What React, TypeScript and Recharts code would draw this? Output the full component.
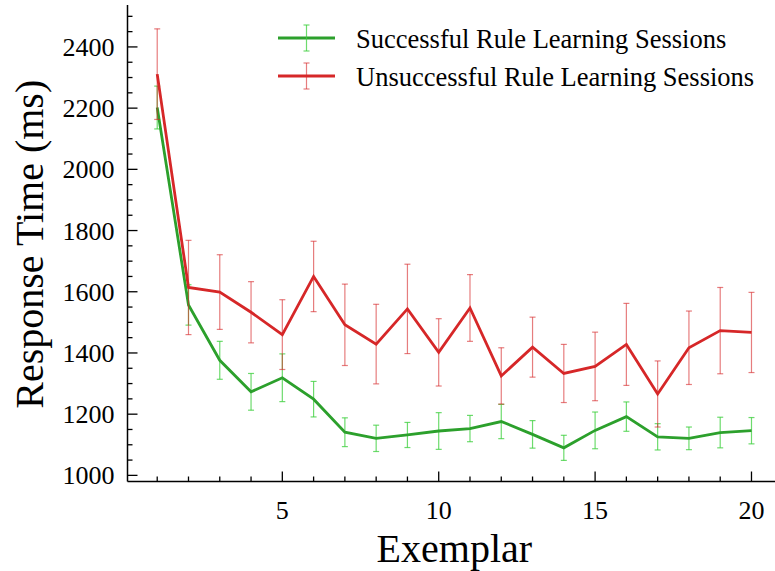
import React from "react";
import { LineChart, Line, XAxis, YAxis, ErrorBar, Legend } from "recharts";

const exemplars = [1, 2, 3, 4, 5, 6, 7, 8, 9, 10, 11, 12, 13, 14, 15, 16, 17, 18, 19, 20];
const successMean = [2202, 1557, 1376, 1273, 1319, 1249, 1141, 1121, 1132, 1145, 1153, 1176, 1134, 1090, 1147, 1192, 1126, 1121, 1140, 1146];
const successErr = [70, 66, 62, 60, 78, 58, 47, 43, 41, 60, 43, 56, 45, 41, 60, 48, 43, 37, 50, 43];
const failMean = [2311, 1614, 1599, 1533, 1460, 1650, 1492, 1429, 1544, 1402, 1547, 1325, 1419, 1333, 1356, 1428, 1266, 1417, 1473, 1467];
const failErr = [148, 154, 122, 100, 114, 115, 133, 130, 146, 110, 109, 92, 98, 95, 112, 134, 108, 120, 141, 131];

const xTicks = exemplars;
const yTicks = [
  1000, 1050, 1100, 1150, 1200, 1250, 1300, 1350, 1400, 1450, 1500, 1550, 1600, 1650, 1700, 1750,
  1800, 1850, 1900, 1950, 2000, 2050, 2100, 2150, 2200, 2250, 2300, 2350, 2400, 2450, 2500,
];

const series = [
  { key: "success", err: "successErr", name: "Successful Rule Learning Sessions", color: "#2ca02c", errColor: "#3ccf3c", errOpacity: 0.75 },
  { key: "fail", err: "failErr", name: "Unsuccessful Rule Learning Sessions", color: "#d62728", errColor: "#d62728", errOpacity: 0.6 },
];

const data = exemplars.map((x, i) => ({
  x,
  success: successMean[i],
  successErr: successErr[i],
  fail: failMean[i],
  failErr: failErr[i],
}));

const FONT = '"Liberation Serif", "Times New Roman", serif';
const TICK = { stroke: "#000", strokeWidth: 1.3 };
const X_DOMAIN = [0.05, 20.95];
const Y_DOMAIN = [980, 2537];

const BottomTick = ({ x, y, payload }: any) => {
  const major = payload.value % 5 === 0;
  return (
    <g>
      <line x1={x} y1={y} x2={x} y2={y - (major ? 10 : 5)} {...TICK} />
      {major && (
        <text x={x} y={y + 37} textAnchor="middle" fontSize={26} fontFamily={FONT} fill="#000">
          {payload.value}
        </text>
      )}
    </g>
  );
};

const TopTick = ({ x, y, payload }: any) => {
  const major = payload.value % 5 === 0;
  return <line x1={x} y1={y} x2={x} y2={y + (major ? 10 : 5)} {...TICK} />;
};

const LeftTick = ({ x, y, payload }: any) => {
  const major = payload.value % 200 === 0;
  return (
    <g>
      <line x1={x} y1={y} x2={x + (major ? 10 : 5)} y2={y} {...TICK} />
      {major && (
        <text x={x - 13} y={y + 9} textAnchor="end" fontSize={26} fontFamily={FONT} fill="#000">
          {payload.value}
        </text>
      )}
    </g>
  );
};

const RightTick = ({ x, y, payload }: any) => {
  const major = payload.value % 200 === 0;
  return <line x1={x} y1={y} x2={x - (major ? 10 : 5)} y2={y} {...TICK} />;
};

const LegendBox = () => (
  <svg width={520} height={100} style={{ position: "absolute", left: 260, top: 0 }}>
    {series.map((s, i) => {
      const cy = 38 + i * 38;
      return (
        <g key={s.key}>
          <line x1={18} x2={75} y1={cy} y2={cy} stroke={s.color} strokeWidth={2.8} />
          <g stroke={s.errColor} strokeOpacity={s.errOpacity} strokeWidth={1.2}>
            <line x1={46.5} x2={46.5} y1={cy - 13} y2={cy + 13} />
            <line x1={43.5} x2={49.5} y1={cy - 13} y2={cy - 13} />
            <line x1={43.5} x2={49.5} y1={cy + 13} y2={cy + 13} />
          </g>
          <text x={96} y={cy + 10} fontSize={26.5} fontFamily={FONT} fill="#000">
            {s.name}
          </text>
        </g>
      );
    })}
  </svg>
);

export default function App() {
  return (
    <div style={{ position: "absolute", left: 0, top: 0, width: 775, height: 571, overflow: "hidden", background: "#fff" }}>
      <LineChart
        width={790}
        height={571}
        data={data}
        margin={{ top: 5, right: 8.8, left: 67.5, bottom: 39.5 }}
      >
        <XAxis
          dataKey="x"
          type="number"
          domain={X_DOMAIN}
          allowDataOverflow
          ticks={xTicks}
          interval={0}
          height={50}
          tickSize={0}
          tickMargin={0}
          tick={<BottomTick />}
          axisLine={{ stroke: "#000", strokeWidth: 1.5 }}
          label={{
            content: ({ viewBox }: any) => (
              <text
                x={viewBox.x + viewBox.width / 2}
                y={viewBox.y + 80.5}
                textAnchor="middle"
                fontSize={40}
                fontFamily={FONT}
                fill="#000"
              >
                Exemplar
              </text>
            ),
          }}
        />
        <XAxis
          xAxisId="top"
          orientation="top"
          dataKey="x"
          type="number"
          domain={X_DOMAIN}
          allowDataOverflow
          ticks={xTicks}
          interval={0}
          height={0}
          tickSize={0}
          tickMargin={0}
          tick={<TopTick />}
          axisLine={{ stroke: "#000", strokeWidth: 1.5 }}
        />
        <YAxis
          type="number"
          domain={Y_DOMAIN}
          allowDataOverflow
          ticks={yTicks}
          interval={0}
          width={60}
          tickSize={0}
          tickMargin={0}
          tick={<LeftTick />}
          axisLine={{ stroke: "#000", strokeWidth: 1.5 }}
          label={{
            content: ({ viewBox }: any) => {
              const cx = 43;
              const cy = viewBox.y + viewBox.height / 2 + 1;
              return (
                <text
                  x={cx}
                  y={cy}
                  transform={`rotate(-90 ${cx} ${cy})`}
                  textAnchor="middle"
                  fontSize={40}
                  fontFamily={FONT}
                  fill="#000"
                >
                  Response Time (ms)
                </text>
              );
            },
          }}
        />
        <YAxis
          yAxisId="right"
          orientation="right"
          type="number"
          domain={Y_DOMAIN}
          allowDataOverflow
          ticks={yTicks}
          interval={0}
          width={0}
          tickSize={0}
          tickMargin={0}
          tick={<RightTick />}
          axisLine={{ stroke: "#000", strokeWidth: 1.5 }}
        />
        <Legend
          verticalAlign="middle"
          align="center"
          layout="horizontal"
          wrapperStyle={{ left: 0, top: 0, width: 775, height: 100 }}
          content={() => <LegendBox />}
        />
        {series.map((s) => (
          <Line
            key={s.key}
            type="linear"
            dataKey={s.key}
            name={s.name}
            stroke={s.color}
            strokeWidth={2.8}
            dot={false}
            activeDot={false}
            isAnimationActive={false}
          >
            <ErrorBar
              dataKey={s.err}
              direction="y"
              width={3}
              stroke={s.errColor}
              strokeOpacity={s.errOpacity}
              strokeWidth={1.2}
              isAnimationActive={false}
            />
          </Line>
        ))}
      </LineChart>
    </div>
  );
}
